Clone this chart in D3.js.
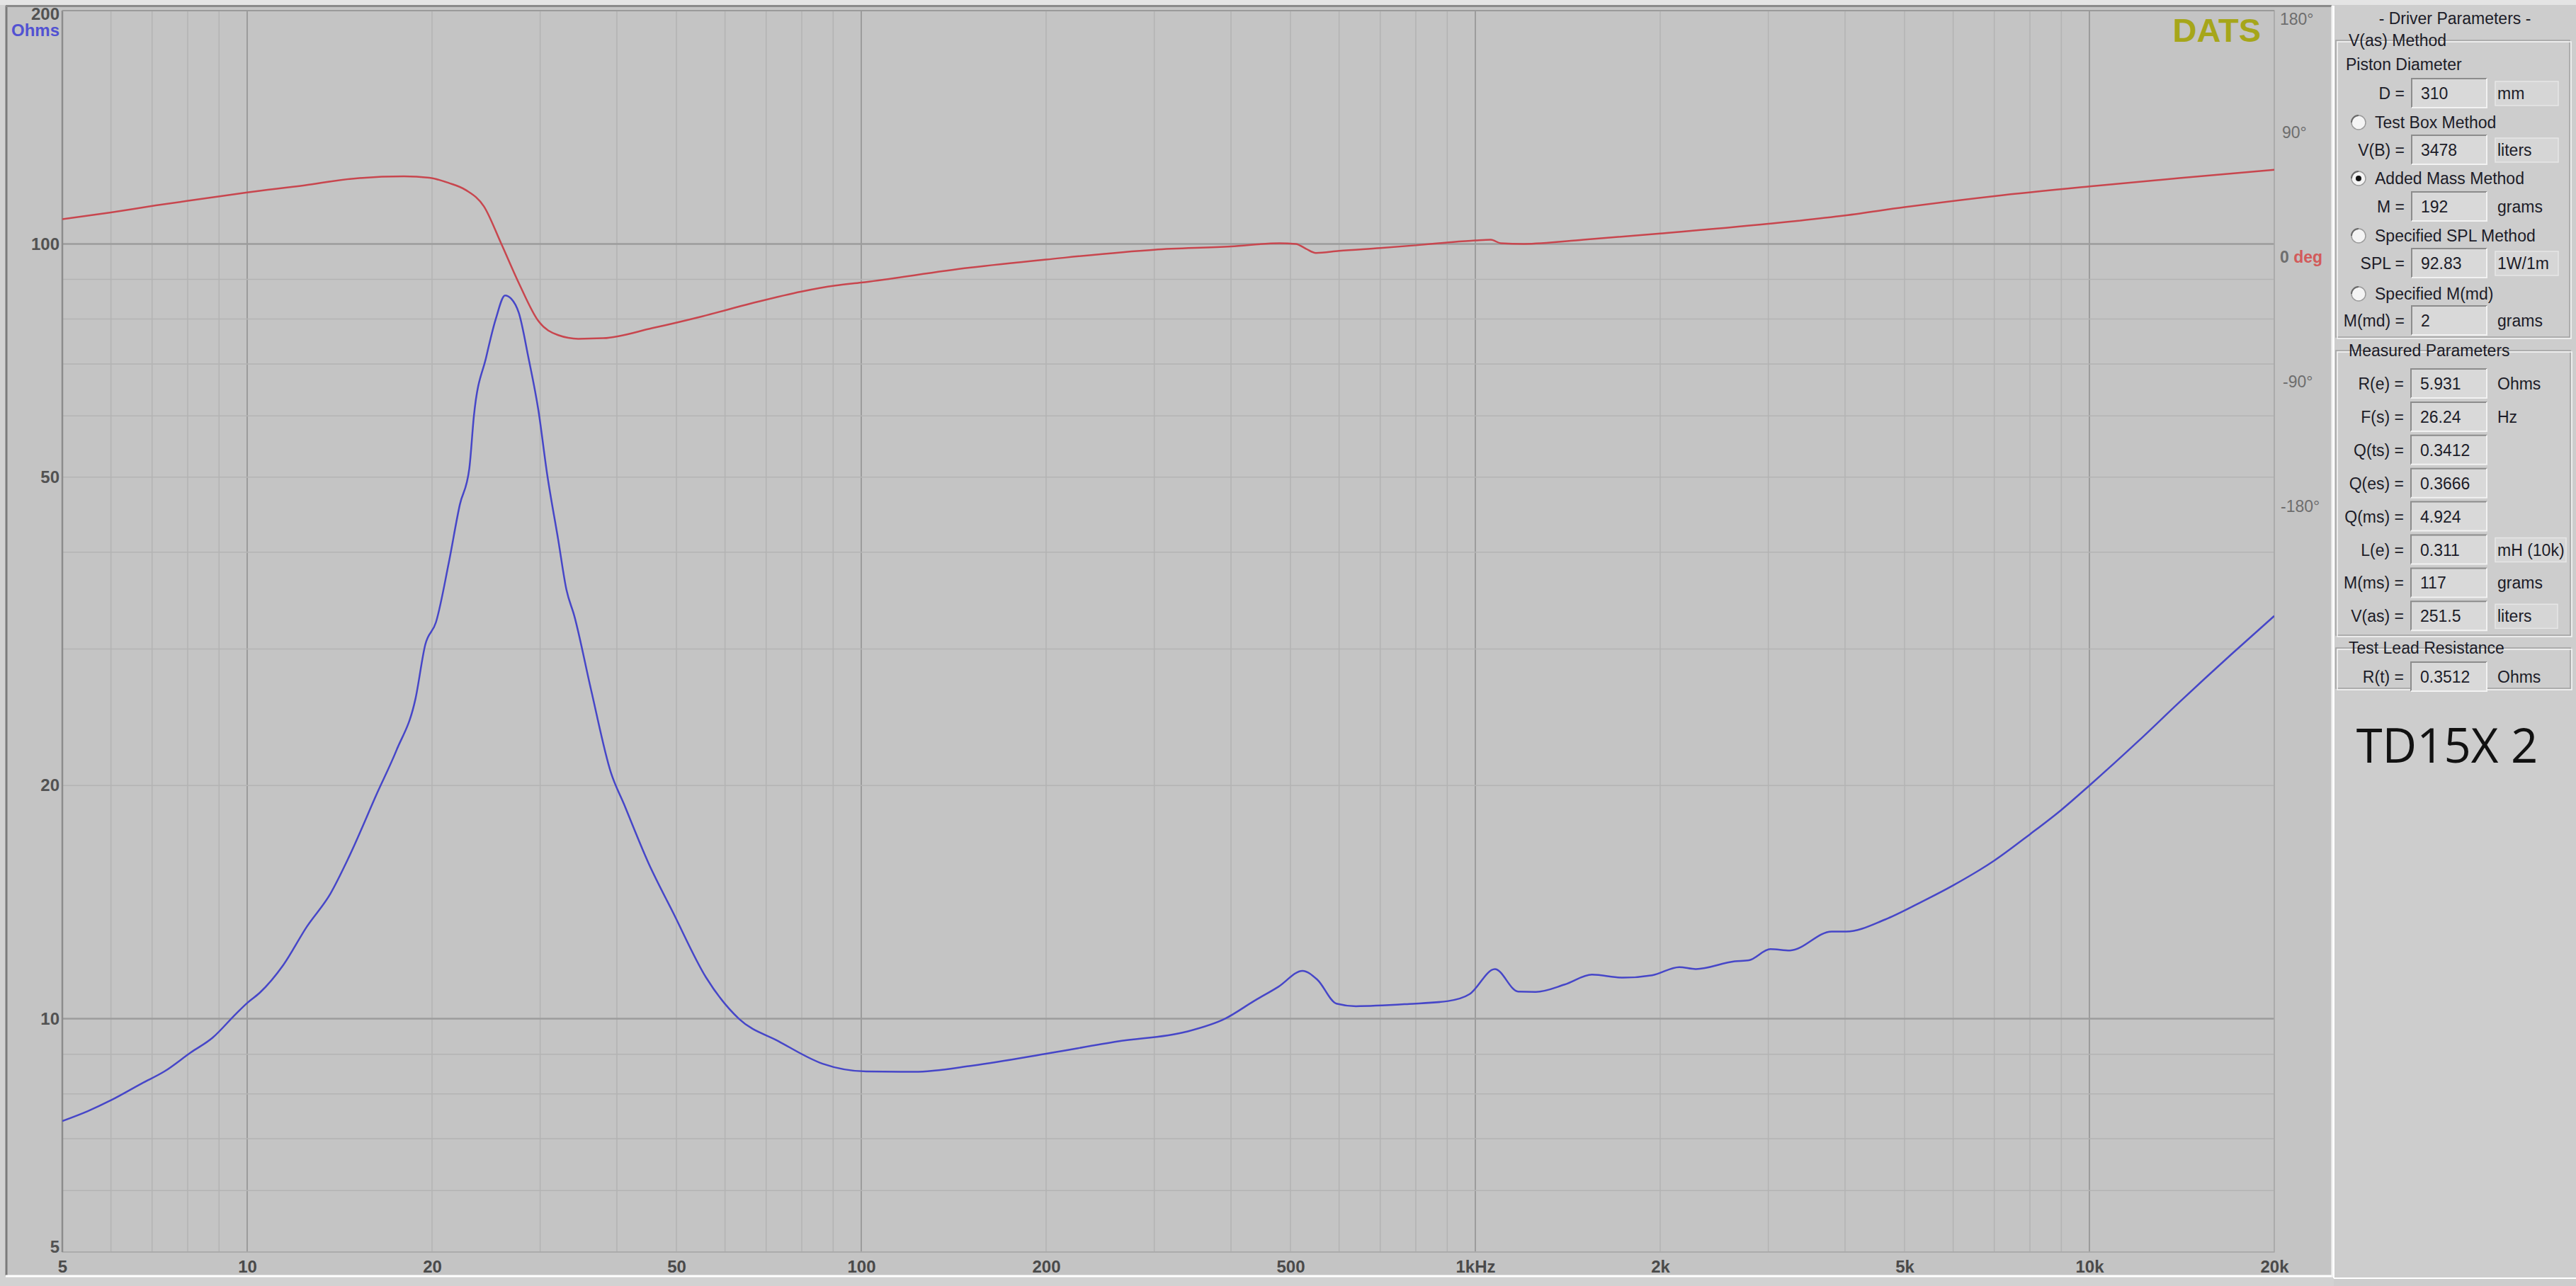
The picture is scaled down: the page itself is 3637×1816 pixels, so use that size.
<!DOCTYPE html>
<html><head><meta charset="utf-8">
<script src="https://cdn.jsdelivr.net/npm/d3@7"></script>
<style>html,body{margin:0;padding:0;background:#d2d2d2;overflow:hidden}svg{display:block}</style>
</head><body><svg id="c" width="3637" height="1816"></svg>
<script>
// ---------- data ----------
const freqZ = [5,5.5,6,6.73,7.33,8.1,8.78,9.59,10,10.48,11.45,12.5,13.66,14.66,16.3,17.5,18.8,19.5,20.3,21.3,22.2,23.0,23.4,24.5,25.4,26.3,26.9,27.7,28.7,29.8,30.8,32.1,33.1,34.1,36.3,39.1,41.1,45.0,49.4,55.9,63.2,73.4,86.5,101.8,122,152,203,262,338,391,436,478,523,553,594,639,780,903,979,1076,1174,1254,1398,1549,1740,1940,2149,2285,2644,2790,3023,3253,3804,4017,4648,5280,5996,7000,8000,9000,10000,12000,14000,17000,20000];
const impedance = [7.38,7.6,7.85,8.25,8.55,9.05,9.45,10.15,10.48,10.8,11.73,13.14,14.5,16.2,19.6,22.2,25.9,30.4,32.5,38.8,46.1,51.3,60,71.4,80,85.8,85,81.4,71.4,61,50.4,41.5,35.8,33.1,26.6,20.8,18.9,15.9,13.7,11.3,10.0,9.35,8.75,8.55,8.54,8.7,9.03,9.35,9.62,10.0,10.54,11.0,11.53,11.23,10.46,10.38,10.45,10.54,10.76,11.59,10.84,10.83,11.07,11.4,11.3,11.38,11.66,11.59,11.86,11.9,12.3,12.25,12.96,12.96,13.43,14.1,14.86,16.0,17.3,18.6,20.0,22.8,25.6,29.5,33.1];
const freqPhase = [5,6,7.1,8.56,10,12.4,14.7,18,19.8,21.3,22.7,24.3,25.9,27.7,29.8,32.1,34.6,38,45.7,55.1,66.3,79.9,90.7,100,150,200,300,400,480,510,530,550,600,700,800,900,1000,1060,1100,1200,1500,2000,3000,4000,5000,7000,10000,14000,20000];
const phaseDeg = [27.3,32.2,37.3,42.4,46.7,51.8,56.4,58.3,57.3,53.5,48.4,36.5,10.1,-18.9,-46.2,-56.4,-59,-58.6,-51.3,-42.8,-33.4,-24.9,-20.6,-18.4,-7.7,-1.8,5.3,7.7,10,9.5,6,3,4.5,6.5,8.5,10.5,12,12.5,10,9.5,12.5,17,24,30,36,44,51,57,63];
const xTicks = [5,10,20,50,100,200,500,1000,2000,5000,10000,20000];
const xTickLabels = ["5","10","20","50","100","200","500","1kHz","2k","5k","10k","20k"];
const yTicks = [5,10,20,50,100,200];
const phaseTicks = [-180,-90,0,90,180];
const phaseTickLabels = ["-180°","-90°","0","90°","180°"];

// panel texts
const vasRows = [
  {y:132,label:"D =",value:"310",unit:"mm",box:true},
  {y:212,label:"V(B) =",value:"3478",unit:"liters",box:true},
  {y:292,label:"M =",value:"192",unit:"grams",box:false},
  {y:372,label:"SPL =",value:"92.83",unit:"1W/1m",box:true},
  {y:453,label:"M(md) =",value:"2",unit:"grams",box:false}
];
const radios = [
  {y:173,text:"Test Box Method",on:false},
  {y:252,text:"Added Mass Method",on:true},
  {y:333,text:"Specified SPL Method",on:false},
  {y:415,text:"Specified M(md)",on:false}
];
const measLabels = ["R(e) =","F(s) =","Q(ts) =","Q(es) =","Q(ms) =","L(e) =","M(ms) =","V(as) ="];
const measValues = ["5.931","26.24","0.3412","0.3666","4.924","0.311","117","251.5"];
const measUnits = ["Ohms","Hz","","","","mH (10k)","grams","liters"];
const measUnitBox = [false,false,false,false,false,true,false,true];

// ---------- drawing ----------
const svg = d3.select("#c");
const L=88, R=3211, T=15, B=1768;
const x = d3.scaleLog().domain([5,20000]).range([L,R]);
const y = d3.scaleLog().domain([5,200]).range([B,T]);
const yp = d3.scaleLinear().domain([-180,180]).range([715,11]);

// backgrounds
svg.append("rect").attr("width",3637).attr("height",1816).attr("fill","#d2d2d2");
svg.append("rect").attr("x",0).attr("y",0).attr("width",3637).attr("height",7).attr("fill","#e4e4e4");
svg.append("rect").attr("x",9).attr("y",9).attr("width",3283).attr("height",1792).attr("fill","#c4c4c4");
svg.append("line").attr("x1",9).attr("x2",9).attr("y1",8).attr("y2",1801).attr("stroke","#7a7a7a").attr("stroke-width",3);
svg.append("line").attr("x1",8).attr("x2",3292).attr("y1",8.5).attr("y2",8.5).attr("stroke","#8a8a8a").attr("stroke-width",3);
svg.append("line").attr("x1",8).attr("x2",3294).attr("y1",1802).attr("y2",1802).attr("stroke","#ffffff").attr("stroke-width",3);
svg.append("line").attr("x1",3293).attr("x2",3293).attr("y1",8).attr("y2",1803).attr("stroke","#f4f4f4").attr("stroke-width",3);

// grid
const minor=[];
for (const d of [1,10,100,1000,10000]) for (let m=1;m<=9;m++){const v=m*d; if(v>=5&&v<=20000) minor.push(v);}
const major=[10,100,1000,10000];
const g = svg.append("g");
g.selectAll("line.vx").data(minor).join("line")
  .attr("x1",d=>x(d)).attr("x2",d=>x(d)).attr("y1",T).attr("y2",B)
  .attr("stroke",d=>major.includes(d)?"#9c9c9c":"#b3b3b3").attr("stroke-width",d=>major.includes(d)?2:1.5);
const yminor=[];
for (const d of [1,10,100]) for (let m=1;m<=9;m++){const v=m*d; if(v>=5&&v<=200) yminor.push(v);}
g.selectAll("line.hy").data(yminor).join("line")
  .attr("x1",L).attr("x2",R).attr("y1",d=>y(d)).attr("y2",d=>y(d))
  .attr("stroke",d=>(d===10||d===100)?"#9c9c9c":"#b3b3b3").attr("stroke-width",d=>(d===10||d===100)?2.5:1.5);
svg.append("rect").attr("x",L).attr("y",T).attr("width",R-L).attr("height",B-T)
  .attr("fill","none").attr("stroke","#a8a8a8").attr("stroke-width",1.5);
svg.append("line").attr("x1",L).attr("x2",L).attr("y1",T).attr("y2",B).attr("stroke","#8c8c8c").attr("stroke-width",2.5);
svg.append("line").attr("x1",L).attr("x2",R).attr("y1",T).attr("y2",T).attr("stroke","#9a9a9a").attr("stroke-width",2);

// axes
const fontAx = "'Liberation Sans', Arial, sans-serif";
const xa = svg.append("g").attr("transform",`translate(0,${B})`)
  .call(d3.axisBottom(x).tickValues(xTicks).tickSize(0).tickPadding(12).tickFormat((d,i)=>xTickLabels[i]));
xa.select(".domain").remove();
xa.selectAll("text").attr("font-family",fontAx).attr("font-size",24).attr("font-weight","bold").attr("fill","#4a4a4a");

const ya = svg.append("g").attr("transform",`translate(${L},0)`)
  .call(d3.axisLeft(y).tickValues(yTicks).tickSize(0).tickPadding(4).tickFormat(d3.format("d")));
ya.select(".domain").remove();
ya.selectAll("text").attr("font-family",fontAx).attr("font-size",24).attr("font-weight","bold").attr("fill","#525252");
ya.selectAll(".tick").filter(d=>d===200).select("text").attr("dy","0.7em").attr("y",-4);
ya.selectAll(".tick").filter(d=>d===5).select("text").attr("dy","0em").attr("y",0);
svg.append("text").attr("x",84).attr("y",51).attr("text-anchor","end").attr("font-family",fontAx)
  .attr("font-size",24).attr("font-weight","bold").attr("fill","#5252d2").text("Ohms");

const pa = svg.append("g").attr("transform",`translate(${R},0)`)
  .call(d3.axisRight(yp).tickValues(phaseTicks).tickSize(0).tickPadding(8).tickFormat((d,i)=>phaseTickLabels[i]));
pa.select(".domain").remove();
pa.selectAll("text").attr("font-family",fontAx).attr("font-size",23).attr("fill","#6e6e6e");
pa.selectAll(".tick").filter(d=>d===180).select("text").attr("dy","0.9em").attr("y",3);
pa.selectAll(".tick").filter(d=>d===90).select("text").attr("x",11);
pa.selectAll(".tick").filter(d=>d===-90).select("text").attr("x",12);
pa.selectAll(".tick").filter(d=>d===-180).select("text").attr("x",9);
const zt = pa.selectAll(".tick").filter(d=>d===0).select("text").attr("font-weight","bold");
zt.append("tspan").attr("fill","#d25a5a").text(" deg");

// DATS
svg.append("text").attr("x",3192).attr("y",59).attr("text-anchor","end").attr("font-family",fontAx)
  .attr("font-size",47).attr("font-weight","bold").attr("fill","#a6a61a").text("DATS");

// curves
svg.append("clipPath").attr("id","clp").append("rect").attr("x",L).attr("y",T).attr("width",R-L).attr("height",B-T);
const zLine = d3.line().x((d,i)=>x(freqZ[i])).y(d=>y(d)).curve(d3.curveMonotoneX);
const pLine = d3.line().x((d,i)=>x(freqPhase[i])).y(d=>yp(d)).curve(d3.curveMonotoneX);
svg.append("path").attr("clip-path","url(#clp)").attr("d",pLine(phaseDeg)).attr("fill","none")
  .attr("stroke","#c8464e").attr("stroke-width",2.5);
svg.append("path").attr("clip-path","url(#clp)").attr("d",zLine(impedance)).attr("fill","none")
  .attr("stroke","#4646c8").attr("stroke-width",2.5);

// ---------- right panel ----------
const P = svg.append("g");
const pf = "'Liberation Sans', Arial, sans-serif";
const tc = "#1c1c28";
P.append("rect").attr("x",3295).attr("y",0).attr("width",342).attr("height",1816).attr("fill","#cdcdcd");
P.append("rect").attr("x",3295).attr("y",0).attr("width",342).attr("height",7).attr("fill","#e4e4e4");
P.append("line").attr("x1",3295).attr("x2",3295).attr("y1",8).attr("y2",1805).attr("stroke","#ffffff").attr("stroke-width",2);
P.append("line").attr("x1",3295).attr("x2",3637).attr("y1",1805).attr("y2",1805).attr("stroke","#ffffff").attr("stroke-width",2);

function fieldset(x0,y0,x1,y1,legend){
  P.append("rect").attr("x",x0).attr("y",y0).attr("width",x1-x0).attr("height",y1-y0).attr("fill","none").attr("stroke","#a2a2a2").attr("stroke-width",1.5);
  P.append("rect").attr("x",x0+2).attr("y",y0+2).attr("width",x1-x0).attr("height",y1-y0).attr("fill","none").attr("stroke","#f6f6f6").attr("stroke-width",1.5);
  const t = P.append("text").attr("x",x0+18).attr("y",y0+8).attr("font-family",pf).attr("font-size",23).attr("fill",tc).text(legend);
  const w = t.node().getComputedTextLength();
  P.insert("rect","text").attr("x",x0+12).attr("y",y0-5).attr("width",w+12).attr("height",12).attr("fill","#cdcdcd");
  t.raise();
}
function valueBox(x0,yc,w,txt){
  P.append("rect").attr("x",x0).attr("y",yc-21).attr("width",w).attr("height",41).attr("fill","#d9d9d9");
  P.append("path").attr("d",`M${x0},${yc+20}V${yc-21}H${x0+w}`).attr("fill","none").attr("stroke","#8c8c8c").attr("stroke-width",2);
  P.append("path").attr("d",`M${x0},${yc+20}H${x0+w}V${yc-21}`).attr("fill","none").attr("stroke","#f2f2f2").attr("stroke-width",2);
  P.append("text").attr("x",x0+13).attr("y",yc+8).attr("font-family",pf).attr("font-size",23).attr("fill",tc).text(txt);
}
function unitBox(x0,yc,w,txt,box){
  if(box){
    P.append("rect").attr("x",x0).attr("y",yc-17).attr("width",w).attr("height",34).attr("fill","#d6d6d6")
      .attr("stroke","#e6e6e6").attr("stroke-width",1.5);
  }
  P.append("text").attr("x",x0+3).attr("y",yc+8).attr("font-family",pf).attr("font-size",23).attr("fill",tc).text(txt);
}
function label(xr,yc,txt){
  P.append("text").attr("x",xr).attr("y",yc+8).attr("text-anchor","end").attr("font-family",pf).attr("font-size",23).attr("fill",tc).text(txt);
}

P.append("text").attr("x",3466).attr("y",34).attr("text-anchor","middle").attr("font-family",pf).attr("font-size",23).attr("fill",tc).text("- Driver Parameters -");
fieldset(3298,57,3628,476,"V(as) Method");
P.append("text").attr("x",3312).attr("y",99).attr("font-family",pf).attr("font-size",23).attr("fill",tc).text("Piston Diameter");
vasRows.forEach(r=>{label(3395,r.y,r.label); valueBox(3405,r.y,106,r.value); unitBox(3523,r.y,89,r.unit,r.box);});
radios.forEach(r=>{
  P.append("circle").attr("cx",3330).attr("cy",r.y).attr("r",10).attr("fill","#f4f4f4").attr("stroke","#9a9a9a").attr("stroke-width",1.5);
  P.append("path").attr("d",`M${3330-10},${r.y} A10,10 0 0 1 ${3330},${r.y-10}`).attr("fill","none").attr("stroke","#6a6a6a").attr("stroke-width",2);
  if(r.on) P.append("circle").attr("cx",3330).attr("cy",r.y).attr("r",4).attr("fill","#111");
  P.append("text").attr("x",3353).attr("y",r.y+8).attr("font-family",pf).attr("font-size",23).attr("fill",tc).text(r.text);
});

fieldset(3298,495,3629,897,"Measured Parameters");
const measY = d3.range(8).map(i=>542+i*46.9);
measLabels.forEach((t,i)=>{
  label(3394,measY[i],t);
  valueBox(3404,measY[i],107,measValues[i]);
  if(measUnits[i]) unitBox(3523,measY[i], i===5?100:88, measUnits[i], measUnitBox[i]);
});

fieldset(3298,915,3629,972,"Test Lead Resistance");
label(3394,956,"R(t) =");
valueBox(3404,956,107,"0.3512");
unitBox(3523,956,88,"Ohms",false);

P.append("text").attr("x",3455).attr("y",1077).attr("text-anchor","middle").attr("font-family","'Open Sans', sans-serif")
  .attr("font-size",67).attr("fill","#111").text("TD15X 2");
</script></body></html>
